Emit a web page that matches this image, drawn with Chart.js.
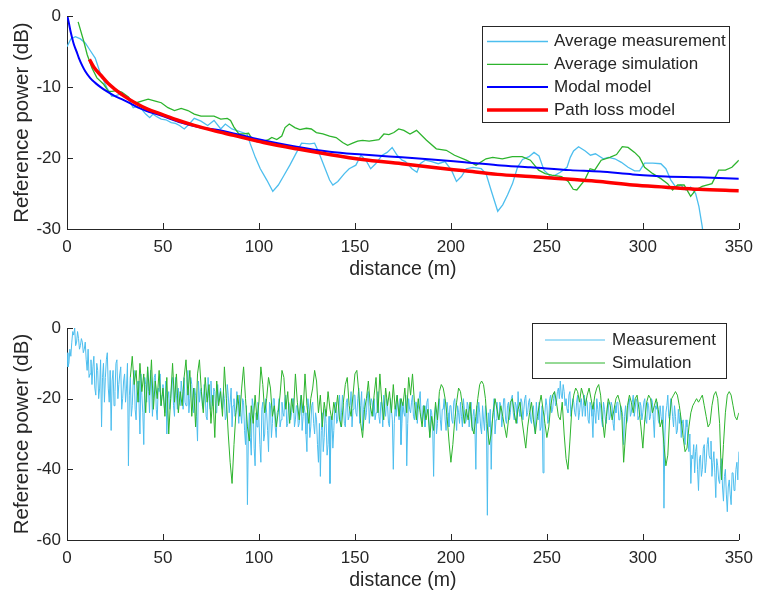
<!DOCTYPE html>
<html>
<head>
<meta charset="utf-8">
<script src="https://cdn.jsdelivr.net/npm/chart.js@4.4.1/dist/chart.umd.min.js"></script>
<style>
  html, body { margin: 0; padding: 0; background: #fff; }
  #wrap { position: relative; width: 761px; height: 597px; }
  #topChart { position: absolute; left: 0; top: 0; }
  #bottomChart { position: absolute; left: 0; top: 290px; }
</style>
</head>
<body>
<div id="wrap">
  <canvas id="topChart" width="761" height="290"></canvas>
  <canvas id="bottomChart" width="761" height="307"></canvas>
</div>
<script>
// ---- top plot: averaged curves (distance in m, power in dB) ----
const avgMeasX = [0, 2, 4.4, 7, 9.6, 12, 14.7, 17.3, 20.8, 23.3, 25.5, 27.6, 30, 32, 34.5, 36.5, 38.8, 41, 43.1, 44.8,
  47, 49.1, 51.5, 54.3, 56.5, 58.6, 61.1, 63.7, 66.3, 69.8, 73.3, 76.6, 80.1, 82.5, 85.9, 89.3, 93.8, 95.5, 98.1, 100.7,
  104.1, 107.2, 110.1, 112.7, 116.1, 119.6, 122.2, 126.4, 129, 131.2, 134.2, 136.8, 138.5, 141.1, 144.5, 147, 150.5, 153.1, 155.7, 158.2,
  160.8, 164.2, 166.8, 169.4, 172, 174.6, 176.3, 179.7, 182.3, 184, 186.6, 190, 193.4, 196.9, 200.3, 202.9, 205.5, 208, 211.5, 215.8,
  218.3, 220.9, 224.4, 227, 229.5, 232.1, 234.7, 237.3, 240.7, 243.3, 245.9, 248.5, 251.9, 254.4, 257, 260.5, 262.2, 263.9, 266.5, 270,
  272.7, 275.3, 279.4, 282, 285.4, 288.8, 292.3, 295.7, 298.3, 300.9, 305.2, 309.4, 312, 314.6, 317.2, 319.8, 322.4, 324.9, 327.5, 329.2,
  330.9, 333];
const avgMeasY = [-4.3, -3.2, -2.9, -3.2, -3.8, -4.8, -5.9, -8.0, -10.1, -11.3, -11.2, -11.0, -11.3, -11.7, -12.9, -12.7, -13.1, -13.8, -14.3, -13.8,
  -14.2, -14.5, -14.6, -15.0, -15.1, -15.4, -15.9, -15.2, -14.4, -14.8, -15.4, -14.7, -15.9, -15.2, -15.9, -16.2, -16.6, -18.0, -19.9, -21.5,
  -23.1, -24.7, -23.8, -22.6, -21.0, -19.2, -17.9, -18.0, -17.9, -19.2, -21.3, -23.1, -23.8, -23.3, -22.2, -21.5, -21.0, -19.6, -20.3, -21.5,
  -20.8, -19.6, -19.2, -18.5, -19.6, -20.3, -20.5, -21.5, -22.0, -20.8, -20.3, -20.5, -20.8, -20.5, -21.7, -23.3, -22.6, -21.5, -21.3, -21.5,
  -22.2, -24.5, -27.5, -26.6, -25.2, -23.6, -21.3, -20.2, -19.8, -19.2, -19.7, -21.7, -22.6, -22.4, -22.0, -21.3, -19.9, -19.0, -18.4, -19.0,
  -19.6, -19.4, -20.1, -19.9, -20.1, -20.6, -21.3, -21.8, -21.8, -20.7, -20.7, -20.8, -21.5, -23.1, -24.1, -23.8, -24.5, -24.1, -25.0, -26.8,
  -29.6, -34];

const avgSimX = [5.8, 8.8, 10.5, 13, 15.6, 19.1, 21.6, 23.4, 26, 28.5, 32, 33.7, 36.2, 39.7, 42.3, 46.5, 49.1, 52.6, 56, 59.5,
  63, 66.3, 69.8, 73.2, 76.6, 80.1, 83.5, 85.2, 86.9, 89.5, 92, 94.6, 96.4, 99, 102.4, 105, 106.7, 109.3, 111.9, 113.6,
  115.8, 118.7, 121.3, 124.7, 127.3, 129.9, 133.3, 136.8, 140.2, 143.6, 146.2, 148.8, 151.4, 154, 157.4, 160, 162.5, 165.1, 167.7, 170.3,
  172.8, 175.5, 178.7, 182.1, 187.3, 192.4, 197.6, 201.9, 208, 213.1, 218.3, 221.8, 226.8, 232, 237.1, 241.4, 245.7, 249.1, 252.6, 257.7,
  261.1, 263.7, 265.6, 269.7, 272.5, 274.9, 278.3, 282.8, 286.3, 289.3, 292.3, 295.7, 298.3, 300.9, 305.2, 309.4, 312.9, 315.5, 318.1, 321.5,
  324.9, 327.5, 330.9, 336, 339.5, 343, 346.4, 350];
const avgSimY = [-0.8, -3.6, -5.4, -7.3, -8.7, -9.6, -10.6, -10.6, -10.5, -10.7, -11.4, -12.0, -12.2, -11.9, -11.7, -12.0, -12.2, -12.9, -13.3, -13.0,
  -13.3, -13.8, -14.1, -14.1, -14.1, -14.5, -14.4, -14.7, -15.6, -16.6, -16.6, -16.5, -17.3, -17.7, -17.6, -17.4, -17.1, -17.4, -16.9, -15.7,
  -15.2, -15.7, -16.0, -15.8, -15.9, -16.4, -16.6, -16.9, -17.1, -17.8, -18.2, -17.9, -17.6, -17.5, -17.6, -17.5, -17.4, -16.6, -16.7, -16.4,
  -15.9, -16.1, -16.6, -16.1, -17.5, -18.7, -18.9, -19.6, -20.3, -21.0, -20.1, -19.9, -20.1, -19.8, -19.8, -20.3, -21.7, -22.2, -22.4, -22.6,
  -23.3, -24.4, -24.5, -23.1, -21.5, -21.7, -20.3, -19.9, -19.5, -18.4, -18.5, -19.2, -19.9, -21.3, -22.2, -22.9, -23.6, -24.5, -23.8, -23.8,
  -25.4, -24.5, -24.0, -23.6, -21.7, -21.7, -21.3, -20.3];

const modalX = [0.2, 1, 1.9, 2.8, 3.6, 5, 6.2, 8, 9.6, 12, 14.7, 17.5, 20.8, 24.5, 28.5, 33, 37.1, 43, 49.1, 59.4,
  69.7, 80.1, 97.2, 119.6, 136.8, 153.9, 174.5, 190, 207.2, 224.4, 241.5, 262.2, 277.6, 294.8, 312, 329.2, 350];
const modalY = [0, -1.0, -2.2, -3.2, -4.0, -5.0, -5.9, -7.0, -7.8, -8.7, -9.4, -10.0, -10.6, -11.2, -11.7, -12.3, -12.9, -13.5, -14.0, -15.0,
  -15.7, -16.1, -17.2, -18.4, -19.1, -19.5, -19.9, -20.2, -20.6, -21.0, -21.3, -21.7, -21.9, -22.3, -22.6, -22.7, -22.9];

const pathLossX = [11.7, 14, 18.2, 21.5, 25, 30, 35.4, 42, 49.1, 57, 66.3, 76, 86.9, 102.4, 119.6, 136.8, 153.9, 174.5, 190, 207.2,
  224.4, 241.5, 262.2, 277.6, 294.8, 312, 329.2, 350];
const pathLossY = [-6.1, -7.2, -8.5, -9.5, -10.3, -11.3, -12.2, -13.1, -13.8, -14.6, -15.4, -16.1, -16.8, -17.8, -18.7, -19.5, -20.2, -20.8, -21.3, -21.8,
  -22.3, -22.6, -23.0, -23.3, -23.8, -24.1, -24.4, -24.6];

// ---- bottom plot: raw measurement, at whole metres and at half metres ----
const measStart = 0;   // distance of measY[0] (m)
const measY = [
  -7, -10, -8, -1, 0, -4, -3, -5, -4, -6,
  -9, -6, -13, -16, -8, -19, -12, -17, -28, -10,
  -14, -7, -21, -29, -12, -18, -9, -16, -11, -20,
  -13, -17, -39, -14, -22, -12, -26, -15, -30, -19,
  -33, -16, -11, -24, -15, -20, -13, -26, -18, -22,
  -16, -24, -30, -18, -21, -14, -25, -19, -17, -22,
  -18, -14, -22, -12, -20, -16, -24, -19, -32, -21,
  -17, -23, -19, -26, -20, -15, -22, -18, -24, -21,
  -17, -23, -20, -25, -19, -21, -28, -20, -24, -22,
  -19, -27, -21, -33, -50, -24, -36, -22, -39, -28,
  -26, -38, -21, -30, -24, -35, -22, -27, -20, -31,
  -23, -28, -21, -25, -19, -27, -22, -24, -20, -26,
  -22, -27, -19, -25, -24, -35, -23, -28, -21, -30,
  -26, -38, -42, -24, -31, -27, -33, -44, -25, -29,
  -21, -26, -19, -24, -22, -28, -20, -25, -18, -23,
  -19, -25, -17, -22, -29, -20, -24, -18, -23, -21,
  -20, -24, -18, -27, -21, -19, -25, -22, -28, -23,
  -40, -22, -19, -26, -33, -21, -25, -39, -20, -24,
  -19, -26, -21, -23, -18, -27, -22, -25, -20, -31,
  -24, -42, -22, -27, -20, -29, -23, -26, -21, -28,
  -22, -27, -20, -29, -24, -21, -28, -23, -26, -22,
  -25, -29, -23, -40, -27, -24, -30, -26, -22, -53,
  -28, -40, -24, -30, -21, -26, -22, -25, -20, -27,
  -21, -24, -19, -26, -22, -18, -25, -21, -23, -19,
  -24, -20, -27, -22, -30, -25, -21, -28, -41, -24,
  -22, -26, -19, -23, -18, -21, -17, -15, -20, -18,
  -20, -24, -18, -23, -21, -25, -19, -24, -20, -22,
  -25, -21, -27, -22, -31, -24, -20, -26, -22, -28,
  -23, -27, -21, -25, -22, -29, -24, -21, -26, -23,
  -33, -22, -26, -20, -24, -19, -23, -21, -25, -22,
  -24, -20, -27, -22, -25, -21, -31, -23, -26, -22,
  -27, -51, -24, -19, -26, -21, -28, -25, -29, -27,
  -31, -26, -33, -28, -35, -44, -37, -41, -33, -46,
  -36, -40, -33, -38, -31, -37, -42, -35, -48, -39,
  -44, -37, -49, -40, -52, -43, -50, -41, -45, -38,
  -35];
// values half a metre after each entry of measY (0.5, 1.5, ... 349.5 m)
const measMidY = [
  -11, -6, -4, -2, -5, -1, -6, -3, -7, -4,
  -12, -14, -9, -11, -17, -10, -20, -9, -14, -21,
  -9, -17, -12, -15, -22, -10, -20, -13, -23, -15,
  -21, -10, -19, -25, -15, -23, -16, -21, -13, -24,
  -14, -21, -18, -12, -25, -14, -23, -17, -13, -19,
  -21, -15, -20, -23, -16, -22, -14, -23, -21, -15,
  -23, -21, -15, -24, -14, -22, -17, -25, -15, -18,
  -22, -16, -25, -14, -23, -21, -17, -24, -16, -19,
  -22, -18, -26, -16, -24, -17, -22, -25, -18, -27,
  -24, -20, -29, -22, -30, -31, -20, -34, -24, -21,
  -33, -23, -32, -20, -29, -21, -31, -20, -28, -24,
  -20, -26, -24, -20, -28, -21, -26, -20, -28, -22,
  -28, -21, -29, -22, -30, -20, -31, -22, -27, -24,
  -33, -27, -29, -35, -23, -36, -25, -30, -34, -22,
  -27, -22, -28, -19, -27, -21, -26, -22, -28, -19,
  -24, -20, -27, -18, -23, -26, -19, -27, -20, -25,
  -26, -20, -25, -21, -28, -23, -20, -27, -20, -26,
  -27, -25, -23, -20, -27, -24, -19, -27, -23, -21,
  -25, -21, -27, -20, -25, -22, -28, -21, -26, -23,
  -28, -25, -30, -21, -26, -23, -20, -29, -24, -22,
  -26, -21, -25, -22, -27, -25, -20, -27, -21, -28,
  -21, -25, -28, -22, -21, -28, -22, -29, -27, -24,
  -23, -27, -20, -26, -25, -21, -28, -20, -26, -22,
  -26, -20, -24, -21, -27, -23, -20, -26, -20, -25,
  -21, -26, -23, -28, -21, -26, -29, -22, -26, -20,
  -27, -20, -24, -20, -22, -18, -20, -19, -16, -22,
  -23, -19, -25, -20, -24, -21, -26, -21, -25, -19,
  -20, -26, -21, -25, -21, -27, -23, -21, -26, -21,
  -26, -22, -26, -21, -27, -22, -21, -26, -22, -25,
  -25, -27, -21, -25, -21, -25, -20, -26, -21, -26,
  -21, -26, -21, -26, -20, -26, -22, -21, -27, -25,
  -22, -30, -22, -25, -20, -25, -22, -30, -23, -24,
  -27, -30, -26, -32, -30, -36, -33, -35, -40, -37,
  -42, -34, -41, -33, -36, -32, -38, -41, -37, -43,
  -39, -45, -42, -47, -45, -47, -41, -46, -40, -43];

// ---- bottom plot: raw simulation, one value per metre ----
const simStart = 33;   // distance of simY[0] (m)
const simY = [
  -14, -8, -16, -12, -21, -10, -18,
  -13, -24, -11, -19, -9, -23, -15, -20, -12, -22,
  -17, -25, -14, -30, -20, -10, -21, -13, -24, -18,
  -22, -14, -9, -19, -12, -25, -17, -28, -13, -9,
  -18, -24, -14, -21, -16, -27, -19, -31, -15, -22,
  -18, -25, -11, -20, -30, -38, -44, -33, -24, -19,
  -25, -17, -11, -20, -28, -32, -22, -27, -19, -26,
  -21, -11, -16, -24, -20, -14, -17, -25, -22, -28,
  -24, -19, -12, -14, -23, -18, -27, -20, -24, -13,
  -21, -26, -19, -24, -13, -22, -27, -20, -17, -12,
  -15, -24, -19, -28, -21, -25, -18, -23, -26, -21,
  -24, -19, -26, -28, -21, -16, -14, -22, -25, -19,
  -13, -12, -18, -27, -31, -23, -20, -15, -22, -25,
  -19, -14, -24, -13, -21, -26, -17, -22, -18, -24,
  -16, -23, -19, -25, -20, -22, -17, -24, -14, -19,
  -13, -21, -26, -20, -24, -28, -22, -26, -23, -31,
  -25, -29, -21, -26, -18, -16, -17, -20, -25, -32,
  -38, -33, -26, -21, -17, -18, -22, -27, -23, -26,
  -21, -28, -30, -25, -20, -16, -15, -16, -20, -28,
  -33, -30, -24, -20, -23, -26, -22, -25, -28, -31,
  -26, -21, -20, -24, -27, -23, -21, -26, -30, -34,
  -28, -24, -21, -26, -30, -25, -22, -19, -23, -27,
  -31, -28, -22, -19, -18, -21, -25, -26, -21, -30,
  -37, -40, -32, -23, -19, -17, -18, -21, -17, -19,
  -22, -19, -17, -20, -23, -19, -17, -16, -19, -26,
  -31, -25, -20, -22, -26, -23, -20, -19, -21, -24,
  -38, -30, -22, -19, -21, -24, -20, -19, -23, -28,
  -34, -26, -21, -19, -20, -24, -22, -20, -23, -28,
  -26, -33, -39, -36, -25, -20, -19, -18, -19, -22,
  -26, -31, -35, -34, -28, -24, -22, -21, -20, -21,
  -20, -19, -22, -25, -28, -27, -22, -19, -18, -20,
  -27, -43, -33, -24, -19, -18, -19, -22, -25, -26,
  -24];

// ---- styling ----
const textColor = '#262626';
const axisColor = '#262626';
const fontFamily = "'Liberation Sans', Arial, Helvetica, sans-serif";
const measColor = '#4DBEEE';
const simColor = '#2DB42D';

// pair x/y arrays into chart points
function toPoints(xs, ys) {
  return ys.map((y, i) => ({ x: xs[i], y: y }));
}
function stepPoints(start, ys) {
  return ys.map((y, i) => ({ x: start + i, y: y }));
}
// whole-metre values interleaved with the half-metre ones
function halfStepPoints(start, ys, mids) {
  const pts = [];
  ys.forEach((y, i) => {
    pts.push({ x: start + i, y: y });
    if (i < mids.length) pts.push({ x: start + i + 0.5, y: mids[i] });
  });
  return pts;
}

// MATLAB style ticks drawn inside the axes
const inwardTicks = {
  id: 'inwardTicks',
  afterDraw(chart) {
    const ctx = chart.ctx;
    const area = chart.chartArea;
    const xs = chart.scales.x, ys = chart.scales.y;
    ctx.save();
    ctx.strokeStyle = axisColor;
    ctx.lineWidth = 1;
    ctx.beginPath();
    xs.ticks.forEach(t => {
      const px = Math.round(xs.getPixelForValue(t.value)) + 0.5;
      ctx.moveTo(px, area.bottom);
      ctx.lineTo(px, area.bottom - 6);
    });
    ys.ticks.forEach(t => {
      const py = Math.round(ys.getPixelForValue(t.value)) + 0.5;
      ctx.moveTo(area.left, py);
      ctx.lineTo(area.left + 6, py);
    });
    ctx.stroke();
    ctx.restore();
  }
};

// boxed legend inside the plot, like the original figure
const boxLegend = {
  id: 'boxLegend',
  afterDraw(chart, args, o) {
    const ctx = chart.ctx;
    ctx.save();
    ctx.fillStyle = '#ffffff';
    ctx.fillRect(o.x, o.y, o.w, o.h);
    ctx.strokeStyle = axisColor;
    ctx.lineWidth = 1;
    ctx.strokeRect(o.x + 0.5, o.y + 0.5, o.w, o.h);
    ctx.font = o.fontSize + 'px ' + fontFamily;
    ctx.textBaseline = 'middle';
    ctx.textAlign = 'left';
    chart.data.datasets.forEach((ds, i) => {
      const y = o.firstRow + i * o.rowStep;
      ctx.strokeStyle = ds.borderColor;
      ctx.lineWidth = ds.borderWidth;
      ctx.beginPath();
      ctx.moveTo(o.lineX0, y);
      ctx.lineTo(o.lineX1, y);
      ctx.stroke();
      ctx.fillStyle = textColor;
      ctx.fillText(ds.label, o.textX, y);
    });
    ctx.restore();
  }
};

function makeOptions(cfg) {
  return {
    responsive: false,
    animation: false,
    devicePixelRatio: 1,
    events: [],
    layout: { padding: { left: 0, right: 15, top: cfg.padTop, bottom: 0 } },
    elements: { point: { radius: 0 }, line: { tension: 0 } },
    plugins: {
      legend: { display: false },
      tooltip: { enabled: false },
      boxLegend: cfg.legend
    },
    scales: {
      x: {
        type: 'linear', min: 0, max: 350,
        ticks: { stepSize: 50, color: textColor, font: { family: fontFamily, size: 17 }, padding: 8, maxRotation: 0 },
        grid: { display: false, drawTicks: false },
        border: { display: true, color: axisColor, width: 1 },
        title: { display: true, text: 'distance (m)', color: textColor,
                 font: { family: fontFamily, size: 19.5 }, padding: { top: 0, bottom: cfg.xTitlePad } },
        afterFit: s => { s.height = cfg.xAxisH; }
      },
      y: {
        type: 'linear', min: cfg.yMin, max: 0,
        ticks: { stepSize: cfg.yStep, color: textColor, font: { family: fontFamily, size: 17 }, padding: 6 },
        grid: { display: false, drawTicks: false },
        border: { display: true, color: axisColor, width: 1 },
        title: { display: true, text: 'Reference power (dB)', color: textColor,
                 font: { family: fontFamily, size: 20.5 }, padding: { top: 10, bottom: 0 } },
        afterFit: s => { s.width = 67; }
      }
    }
  };
}

new Chart(document.getElementById('topChart'), {
  type: 'line',
  data: {
    datasets: [
      { label: 'Average measurement', data: toPoints(avgMeasX, avgMeasY), borderColor: measColor, borderWidth: 1.3, order: 4 },
      { label: 'Average simulation', data: toPoints(avgSimX, avgSimY), borderColor: simColor, borderWidth: 1.3, order: 3 },
      { label: 'Modal model', data: toPoints(modalX, modalY), borderColor: '#0000FF', borderWidth: 2,
        cubicInterpolationMode: 'monotone', order: 2 },
      { label: 'Path loss model', data: toPoints(pathLossX, pathLossY), borderColor: '#FF0000', borderWidth: 3.5,
        cubicInterpolationMode: 'monotone', order: 1 }
    ]
  },
  options: makeOptions({
    padTop: 14, xAxisH: 61, xTitlePad: 9, yMin: -30, yStep: 10,
    legend: { x: 482, y: 26, w: 247, h: 96, firstRow: 41.5, rowStep: 22.8,
              lineX0: 487, lineX1: 548, textX: 554, fontSize: 17 }
  }),
  plugins: [inwardTicks, boxLegend]
});

new Chart(document.getElementById('bottomChart'), {
  type: 'line',
  data: {
    datasets: [
      { label: 'Measurement', data: halfStepPoints(measStart, measY, measMidY), borderColor: measColor, borderWidth: 1, order: 2 },
      { label: 'Simulation', data: stepPoints(simStart, simY), borderColor: simColor, borderWidth: 1, order: 1 }
    ]
  },
  options: makeOptions({
    padTop: 38, xAxisH: 57, xTitlePad: 5, yMin: -60, yStep: 20,
    legend: { x: 532, y: 33, w: 194, h: 55, firstRow: 50, rowStep: 23,
              lineX0: 545, lineX1: 605, textX: 612, fontSize: 17 }
  }),
  plugins: [inwardTicks, boxLegend]
});
</script>
</body>
</html>
